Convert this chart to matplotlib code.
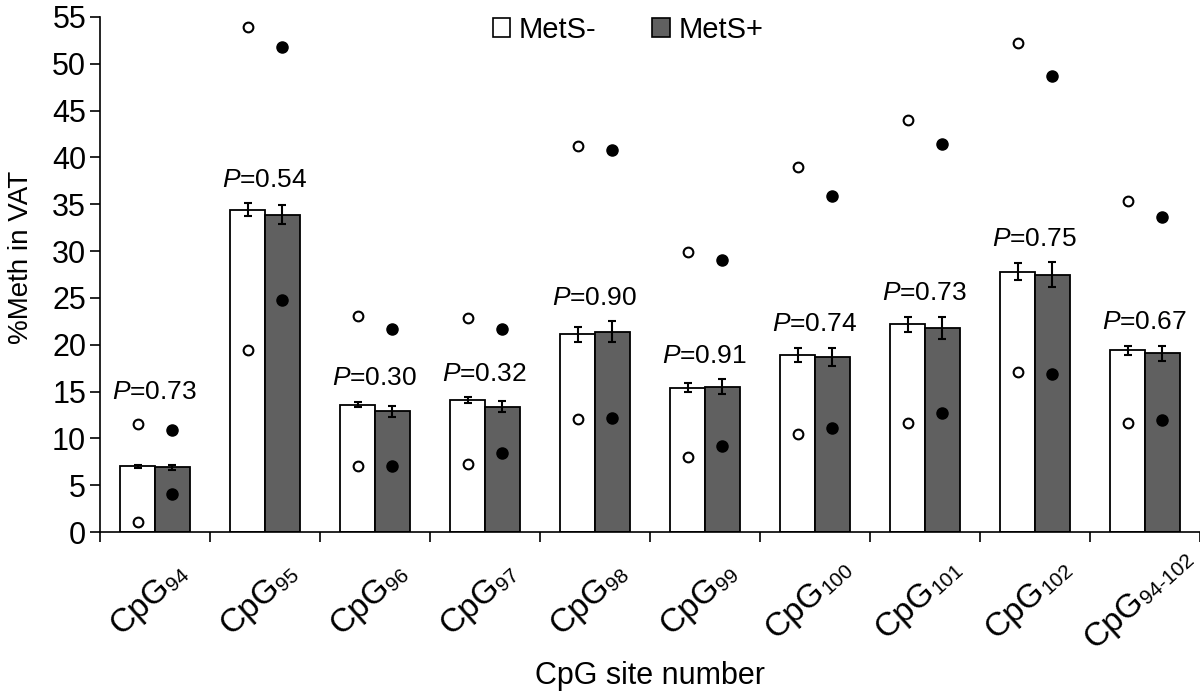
import numpy as np
import matplotlib
matplotlib.use("Agg")
import matplotlib.pyplot as plt
from matplotlib.patches import Patch
from matplotlib.font_manager import FontProperties

plt.rcParams['font.family'] = ['Liberation Sans', 'DejaVu Sans']
plt.rcParams['mathtext.fontset'] = 'custom'
plt.rcParams['mathtext.rm'] = 'Liberation Sans'
plt.rcParams['mathtext.it'] = 'Liberation Sans:italic'

# siti CpG
sites = ['94', '95', '96', '97', '98', '99', '100', '101', '102', '94-102']
# medie e errori
mets_neg = [7.0, 34.4, 13.6, 14.1, 21.1, 15.4, 18.9, 22.2, 27.8, 19.4]
mets_neg_err = [0.2, 0.7, 0.3, 0.3, 0.8, 0.5, 0.7, 0.8, 0.9, 0.5]
mets_pos = [6.9, 33.9, 12.9, 13.4, 21.4, 15.5, 18.7, 21.8, 27.5, 19.1]
mets_pos_err = [0.3, 1.0, 0.6, 0.6, 1.1, 0.8, 1.0, 1.2, 1.3, 0.8]
# min / max
neg_max = [11.5, 53.9, 23.1, 22.9, 41.2, 29.9, 39.0, 44.0, 52.2, 35.4]
neg_min = [1.1, 19.4, 7.1, 7.3, 12.1, 8.0, 10.5, 11.6, 17.1, 11.6]
pos_max = [10.9, 51.8, 21.7, 21.7, 40.8, 29.0, 35.9, 41.4, 48.7, 33.6]
pos_min = [4.1, 24.8, 7.1, 8.4, 12.2, 9.2, 11.1, 12.7, 16.9, 12.0]
# p-value
pvals = ['0.73', '0.54', '0.30', '0.32', '0.90', '0.91', '0.74', '0.73', '0.75', '0.67']

x = np.arange(len(sites)) + 0.5
w = 0.315
dark = '#606060'

W, H = 1200, 692
fig = plt.figure(figsize=(W / 100, H / 100), dpi=100)
ax = fig.add_axes([100/W, 1 - 532/H, 1100/W, (532 - 17)/H])

ax.bar(x - w/2, mets_neg, w, color='white', edgecolor='black', lw=1.3, zorder=2)
ax.bar(x + w/2, mets_pos, w, color=dark, edgecolor='black', lw=1.3, zorder=2)
ax.errorbar(x - w/2, mets_neg, yerr=mets_neg_err, fmt='none', ecolor='black',
            elinewidth=1.5, capsize=3, capthick=1.5, zorder=3)
ax.errorbar(x + w/2, mets_pos, yerr=mets_pos_err, fmt='none', ecolor='black',
            elinewidth=1.5, capsize=3, capthick=1.5, zorder=3)

ax.plot(x - w/2, neg_max, 'o', mfc='white', mec='black', ms=7, mew=1.5, ls='none', zorder=4)
ax.plot(x - w/2, neg_min, 'o', mfc='white', mec='black', ms=7, mew=1.5, ls='none', zorder=4)
ax.plot(x + w/2, pos_max, 'o', color='black', ms=8, ls='none', zorder=4)
ax.plot(x + w/2, pos_min, 'o', color='black', ms=8, ls='none', zorder=4)

# etichette P
for i in range(len(sites)):
    top = max(mets_neg[i] + mets_neg_err[i], mets_pos[i] + mets_pos_err[i])
    ly = top + 2.5
    cmax = max(neg_max[i], pos_max[i])
    if top < cmax < ly + 2:
        ly = cmax + 3.4
    ax.text(x[i], ly, '$\\mathit{P}$=' + pvals[i], ha='center', va='center', fontsize=19)

ax.set_xlim(0, len(sites))
ax.set_ylim(0, 55)
ax.set_yticks(np.arange(0, 56, 5))
ax.tick_params(axis='y', labelsize=22, length=7, width=1.2, direction='out', pad=3)
ax.set_xticks(np.arange(len(sites) + 1))
ax.set_xticklabels([])
ax.tick_params(axis='x', length=7, width=1.2, direction='out')

for s in ['top', 'right']:
    ax.spines[s].set_visible(False)
ax.spines['left'].set_linewidth(1.2)
ax.spines['bottom'].set_linewidth(1.2)

# etichette asse x ruotate, con pedice piccolo
rot = 42
theta = np.deg2rad(rot)
u = np.array([np.cos(theta), np.sin(theta)])
n = np.array([np.sin(theta), -np.cos(theta)])
fp_main = FontProperties(family='Liberation Sans', size=24)
fp_sub = FontProperties(family='Liberation Sans', size=15)
renderer = fig.canvas.get_renderer()
wm, hm, dm = renderer.get_text_width_height_descent('CpG', fp_main, ismath=False)
for i, s in enumerate(sites):
    ws = renderer.get_text_width_height_descent(s, fp_sub, ismath=False)[0]
    L = wm + ws
    cx = ax.transData.transform((x[i], 0))[0] - 8
    c = np.array([cx, H - 597])
    start = c - (L / 2) * u + 11 * n
    sub = start + wm * u + 2 * n
    fig.text(start[0] / W, start[1] / H, 'CpG', fontproperties=fp_main,
             rotation=rot, rotation_mode='anchor', ha='left', va='baseline')
    fig.text(sub[0] / W, sub[1] / H, s, fontproperties=fp_sub,
             rotation=rot, rotation_mode='anchor', ha='left', va='baseline')

ax.set_ylabel('%Meth in VAT', fontsize=20)
ax.yaxis.set_label_coords((34 - 100) / 1100, (532 - 257) / 515)
ax.set_xlabel('CpG site number', fontsize=22, va='top')
ax.xaxis.set_label_coords(0.5, (532 - 661) / 515)

handles = [Patch(facecolor='white', edgecolor='black', lw=1.2, label='MetS-'),
           Patch(facecolor=dark, edgecolor='black', lw=1.2, label='MetS+')]
fig.legend(handles=handles, loc='center', bbox_to_anchor=(628/W, 1 - 30/H), ncol=2,
           frameon=False, fontsize=21, handlelength=0.6, handleheight=0.6,
           handletextpad=0.3, columnspacing=1.9)

fig.savefig('out.png', dpi=100)
